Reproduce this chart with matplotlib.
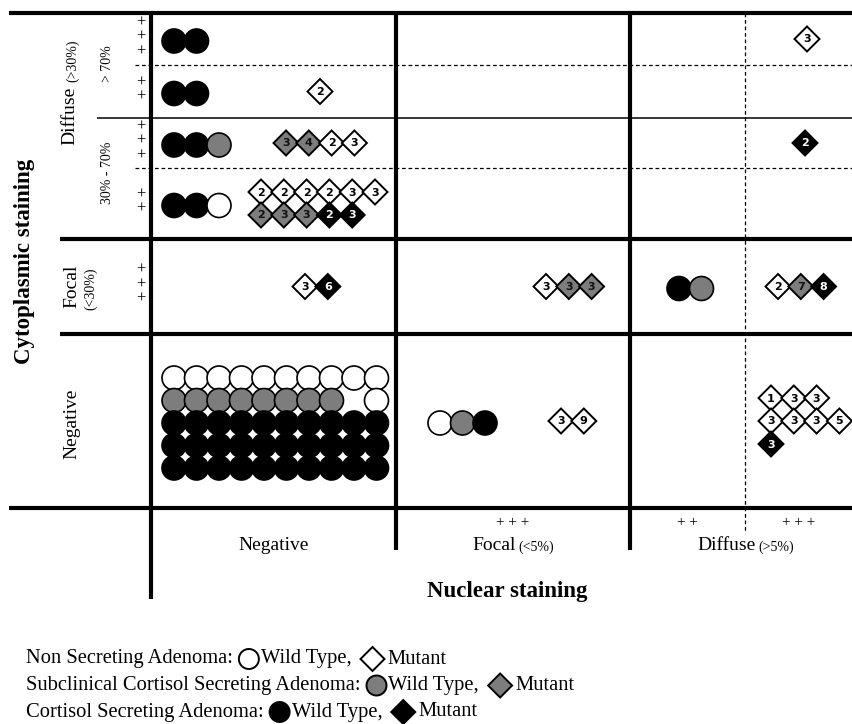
import matplotlib
matplotlib.use('Agg')
import matplotlib.pyplot as plt
from matplotlib.patches import Circle, Polygon

plt.rcParams['font.family'] = ['Liberation Serif', 'DejaVu Serif']

# Cytoplasmic staining (rows) and nuclear staining (columns)
row_names = ['Diffuse >70% +++', 'Diffuse >70% ++', 'Diffuse 30-70% +++',
             'Diffuse 30-70% ++', 'Focal +++', 'Negative']
row_plus = [3, 2, 3, 2, 3, 0]
col_names = ['Negative', 'Focal', 'Diffuse']
col_notes = ['', '(<5%)', '(>5%)']
sub_col_plus = ['', '+ + +', '+ +', '+ + +']

# n = non secreting, s = subclinical cortisol secreting, c = cortisol secreting
# wild type cases per (row, sub column): one string per line of circles, '.' = empty
wild_type = {
    (0, 0): ['cc'],
    (1, 0): ['cc'],
    (2, 0): ['ccs'],
    (3, 0): ['ccn'],
    (4, 2): ['cs'],
    (5, 0): ['nnnnnnnnnn', 'ssssssss.n', 'cccccccccc', 'cccccccccc', 'cccccccccc'],
    (5, 1): ['nsc'],
}
# mutant cases: group letter + number shown in the diamond
mutants = {
    (0, 3): ['n3'],
    (1, 0): ['n2'],
    (2, 0): ['s3 s4 n2 n3'],
    (2, 3): ['c2'],
    (3, 0): ['n2 n2 n2 n2 n3 n3', 's2 s3 s3 c2 c3'],
    (4, 0): ['n3 c6'],
    (4, 1): ['n3 s3 s3'],
    (4, 3): ['n2 s7 c8'],
    (5, 1): ['n3 n9'],
    (5, 3): ['n1 n3 n3', 'n3 n3 n3 n5', 'c3'],
}
legend_names = ['Non Secreting Adenoma:', 'Subclinical Cortisol Secreting Adenoma:',
                'Cortisol Secreting Adenoma:']
legend_groups = ['n', 's', 'c']

# ---- layout (pixels) ----
fill = {'n': 'white', 's': '#7d7d7d', 'c': 'black'}
textcol = {'n': 'black', 's': '#111111', 'c': 'white'}
row_edges = [13, 65, 118, 168, 239, 334, 508]
col_edges = [151, 396, 630, 745, 853]
wild_dx = {(0, 0): 23, (1, 0): 23, (2, 0): 23, (3, 0): 23, (4, 2): 49,
           (5, 0): 23, (5, 1): 44}
mut_dx = {(0, 3): 62, (1, 0): 169, (2, 0): 135, (2, 3): 60, (3, 0): 110,
          (4, 0): 154, (4, 1): 150, (4, 3): 33, (5, 1): 165, (5, 3): 26}
R = 12      # circle radius
D = 12.5    # diamond half diagonal
STEP = 22.5

fig = plt.figure(figsize=(8.53, 7.24), dpi=100)
ax = fig.add_axes([0, 0, 1, 1])
ax.set_xlim(0, 853)
ax.set_ylim(724, 0)
ax.axis('off')

def hline(y, x0, x1, **kw):
    ax.plot([x0, x1], [y, y], color='black', solid_capstyle='butt', **kw)

def vline(x, y0, y1, **kw):
    ax.plot([x, x], [y0, y1], color='black', solid_capstyle='butt', **kw)

dash = dict(lw=0.9, linestyle=(0, (3, 2.2)))
hline(row_edges[0], 9, 853, lw=3)
hline(row_edges[-1], 9, 853, lw=3)
hline(row_edges[4], 60, 853, lw=3)
hline(row_edges[5], 60, 853, lw=3)
hline(row_edges[2], 97, 853, lw=1.1)
hline(row_edges[1], 135, 853, **dash)
hline(row_edges[3], 135, 853, **dash)
vline(col_edges[0], 13, 599, lw=3)
vline(col_edges[1], 13, 550, lw=3)
vline(col_edges[2], 13, 550, lw=3)
vline(col_edges[3], 13, 532, **dash)

def diamond(x, y, d, g, label=None, lw=1.4):
    ax.add_patch(Polygon([[x - d, y], [x, y - d], [x + d, y], [x, y + d]],
                         closed=True, facecolor=fill[g], edgecolor='black',
                         lw=lw, zorder=3))
    if label:
        ax.text(x, y + 0.5, label, ha='center', va='center', fontsize=8,
                color=textcol[g], fontweight='bold', zorder=4,
                family=['Liberation Sans Narrow', 'DejaVu Sans'])

def circle(x, y, r, g, lw=1.2):
    ax.add_patch(Circle((x, y), r, facecolor=fill[g], edgecolor='black',
                        lw=lw, zorder=3))

for (r, c), lines in wild_type.items():
    yc = (row_edges[r] + row_edges[r + 1]) / 2
    y0 = yc - (len(lines) - 1) * STEP / 2 + 2
    x0 = col_edges[c] + wild_dx[(r, c)]
    for i, line in enumerate(lines):
        for j, g in enumerate(line):
            if g != '.':
                circle(x0 + j * STEP, y0 + i * STEP, R, g)

for (r, c), lines in mutants.items():
    yc = (row_edges[r] + row_edges[r + 1]) / 2
    y0 = yc - (len(lines) - 1) * 23 / 2
    x0 = col_edges[c] + mut_dx[(r, c)]
    for i, line in enumerate(lines):
        for j, item in enumerate(line.split()):
            diamond(x0 + j * 22.8, y0 + i * 23, D, item[0], item[1:])

# row plus signs
for r, n in enumerate(row_plus):
    yc = (row_edges[r] + row_edges[r + 1]) / 2 - 2
    for k in range(n):
        ax.text(141, yc + (k - (n - 1) / 2) * 14.5, '+', ha='center', va='center',
                fontsize=12)

# left labels
ax.text(25, 261, 'Cytoplasmic staining', rotation=90, ha='center', va='center',
        fontsize=16.5, fontweight='bold')
ax.text(70, 116, 'Diffuse', rotation=90, ha='center', va='center', fontsize=14)
ax.text(73, 61, '(>30%)', rotation=90, ha='center', va='center', fontsize=10)
ax.text(108, 64, '> 70%', rotation=90, ha='center', va='center', fontsize=10)
ax.text(108, 173, '30% - 70%', rotation=90, ha='center', va='center', fontsize=10)
ax.text(72, 286, 'Focal', rotation=90, ha='center', va='center', fontsize=14)
ax.text(91, 289, '(<30%)', rotation=90, ha='center', va='center', fontsize=10)
ax.text(72, 424, 'Negative', rotation=90, ha='center', va='center', fontsize=14)

# bottom labels
renderer = fig.canvas.get_renderer()
for c, p in enumerate(sub_col_plus):
    if p:
        ax.text((col_edges[c] + col_edges[c + 1]) / 2, 523, p, ha='center',
                va='center', fontsize=11)
col_centres = [(col_edges[0] + col_edges[1]) / 2, (col_edges[1] + col_edges[2]) / 2,
               (col_edges[2] + col_edges[4]) / 2 + 4]
for name, note, xc in zip(col_names, col_notes, col_centres):
    t1 = ax.text(0, 545, name, ha='left', va='center', fontsize=14)
    w1 = t1.get_window_extent(renderer).width
    w2 = 0
    if note:
        t2 = ax.text(0, 547, note, ha='left', va='center', fontsize=10)
        w2 = t2.get_window_extent(renderer).width + 3
    x = xc - (w1 + w2) / 2
    t1.set_x(x)
    if note:
        t2.set_x(x + w1 + 3)
ax.text(507, 591, 'Nuclear staining', ha='center', va='center', fontsize=16.5,
        fontweight='bold')

# legend
for k, (name, g) in enumerate(zip(legend_names, legend_groups)):
    y = 659 + k * 26.5
    x = 26
    t = ax.text(x, y, name, ha='left', va='center', fontsize=14.8)
    x += t.get_window_extent(renderer).width + 6
    circle(x + 10, y, 10, g, lw=1.4)
    x += 22
    t = ax.text(x, y, 'Wild Type,', ha='left', va='center', fontsize=14.8)
    x += t.get_window_extent(renderer).width + 9
    diamond(x + 12, y, 12, g, lw=1.4)
    x += 27
    ax.text(x, y, 'Mutant', ha='left', va='center', fontsize=14.8)

fig.savefig('out.png', dpi=100)
